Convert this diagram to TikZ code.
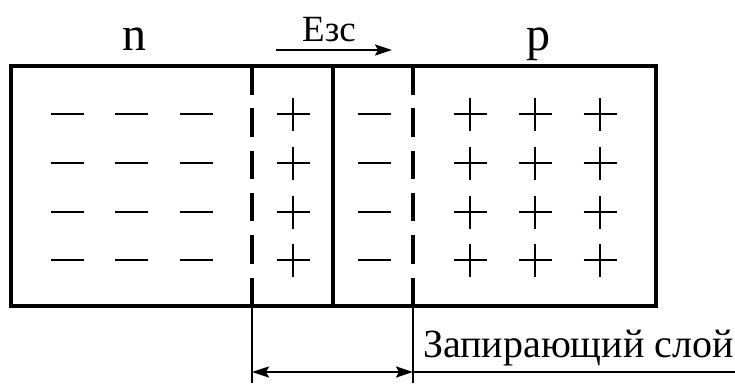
\documentclass[tikz,border=0pt]{standalone}
\usepackage{fontspec}
\setmainfont{Liberation Serif}
\usetikzlibrary{arrows.meta}
\tikzset{head/.tip={Stealth[length=17pt,width=11pt,inset=3pt]}}
\begin{document}
\begin{tikzpicture}[x=1pt,y=-1pt,
  frame/.style={line width=3.3pt},
  boundary/.style={line width=3.3pt,dash pattern=on 28.5pt off 13.8pt},
  thin/.style={line width=2pt},
  sign/.style={line width=2.2pt},
  lbl/.style={inner sep=0pt,anchor=base}]
  \useasboundingbox (0,0) rectangle (735,383);
  % crystal
  \coordinate (tl) at (11,66);
  \coordinate (br) at (656,306);
  \draw[frame] (tl) rectangle (br);
  % space-charge region boundaries and junction
  \coordinate (dlt) at (252,66);  \coordinate (dlb) at (252,306);
  \coordinate (drt) at (413,66);  \coordinate (drb) at (413,306);
  \coordinate (jt) at (333,66);   \coordinate (jb) at (333,306);
  \draw[boundary] (dlt) -- (dlb);
  \draw[boundary] (drt) -- (drb);
  \draw[frame] (jt) -- (jb);
  % charges
  \foreach \y in {114,163,212,260}{
    \foreach \x in {67,131.5,196.5,374}
      \draw[sign] (\x-16.5,\y) -- (\x+16.5,\y);
    \foreach \x in {293,470,535,600}{
      \draw[sign] (\x-16.5,\y) -- (\x+16.5,\y);
      \draw[sign] (\x,\y-16.5) -- (\x,\y+16.5);
    }
  }
  % region labels
  \node[lbl,font=\fontsize{48}{48}\selectfont] (n) at (134,50) {n};
  \node[lbl,font=\fontsize{48}{48}\selectfont] (p) at (538,50) {p};
  % field
  \node[lbl,font=\fontsize{37}{37}\selectfont] (E) at (329,41) {Eзс};
  \coordinate (ea) at (276,50);
  \coordinate (eb) at (392,50);
  \draw[thin,-head] (ea) -- (eb);
  % width of the depletion layer
  \coordinate (el) at (252,383);
  \coordinate (er) at (413,383);
  \draw[thin] (dlb) -- (el);
  \draw[thin] (drb) -- (er);
  \coordinate (al) at (252,372);
  \coordinate (ar) at (413,372);
  \coordinate (ae) at (735,372);
  \draw[thin,head-head] (al) -- (ar);
  \draw[thin] (ar) -- (ae);
  \node[lbl,anchor=base west,font=\fontsize{40}{40}\selectfont] (lay) at (423,357) {Запирающий слой};
\end{tikzpicture}
\end{document}
